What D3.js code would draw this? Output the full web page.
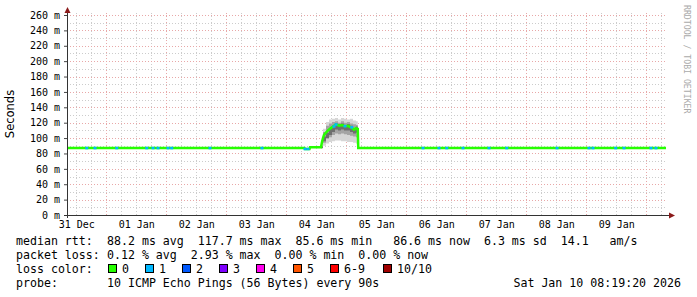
<!DOCTYPE html>
<html><head><meta charset="utf-8">
<script src="https://cdn.jsdelivr.net/npm/d3@7"></script>
<style>
html,body{margin:0;padding:0;background:#fff;}
text{white-space:pre;}
</style></head>
<body>
<svg id="c" width="697" height="297"></svg>
<script>
// ---------- data ----------
const startUTC = Date.UTC(2025, 11, 31, 8, 19, 20);   // Dec 31 08:19:20
const endUTC   = Date.UTC(2026, 0, 10, 8, 19, 20);    // Jan 10 08:19:20
const yTicks = [0,20,40,60,80,100,120,140,160,180,200,220,240,260];
const dayLabels = ["31 Dec","01 Jan","02 Jan","03 Jan","04 Jan","05 Jan","06 Jan","07 Jan","08 Jan","09 Jan"];

// median rtt (hours since start, ms)
const medianHours = [0, 95.0, 95.2, 97.0, 97.2, 101.6, 102.0, 102.4, 102.8, 103.6, 104.4, 105.2, 106.4, 107.6, 108.8, 110.0, 111.2, 112.4, 113.6, 114.8, 115.6, 116.3, 116.5, 239.6];
const medianMs    = [87.0, 87.0, 85.8, 85.8, 88.0, 88.0, 95, 100, 104, 107, 110, 112, 115, 117.7, 116, 117, 115.5, 116, 114, 111, 113, 112, 87.0, 87.0];

// smoke (spread of the 10 pings) during the spike
const smokeHours = [101.6, 102.4, 103.6, 104.8, 106.0, 107.2, 108.4, 109.6, 110.8, 112.0, 113.2, 114.4, 115.6, 116.3];
const smokeMax   = [92, 112, 121, 124, 125, 126, 124, 126, 125, 124, 125, 123, 122, 120];
const smokeQ3    = [90, 108, 116, 119, 121, 122, 120, 122, 120, 121, 119, 118, 117, 115];
const smokeInHi  = [89, 102, 107, 112, 116, 119, 118, 119, 117, 118, 116, 113, 115, 113];
const smokeInLo  = [87, 96, 100, 104, 108, 111, 110, 111, 110, 110, 108, 106, 107, 105];
const smokeQ1    = [87, 94, 99, 101, 104, 106, 105, 106, 105, 104, 103, 102, 101, 100];
const smokeMin   = [86, 90, 93, 95, 96, 97, 97, 96, 96, 95, 95, 94, 93, 92];

// samples with packet loss (hours since start, median ms, lost pings)
const lossHours = [7.9, 11.2, 19.9, 31.9, 34.4, 36.4, 40.4, 41.9, 57.2, 78.0, 95.2, 96.4, 106.8, 107.6, 111.2, 113.9, 142.4, 148.8, 151.9, 158.4, 168.8, 175.9, 196.0, 208.8, 210.4, 219.5, 222.8, 233.6, 235.6];
const lossMs    = [87, 87, 87, 87, 87, 87, 87, 87, 87, 87, 85.8, 85.8, 115, 117.7, 115.5, 114, 87, 87, 87, 87, 87, 87, 87, 87, 87, 87, 87, 87, 87];
const lossCount = [1,1,1,1,1,1,1,1,1,1,1,1,1,1,1,1,1,1,1,1,1,1,1,1,1,1,1,1,1];

const lossLabels = ["0","1","2","3","4","5","6-9","10/10"];
const lossColors = ["#26ff00","#00b8ff","#0059ff","#7e00ff","#ff00ee","#ff5500","#ff0000","#a00000"];

const legendRows = [
  ["median rtt:", "88.2 ms avg  117.7 ms max  85.6 ms min   86.6 ms now  6.3 ms sd  14.1   am/s"],
  ["packet loss:", "0.12 % avg  2.93 % max  0.00 % min  0.00 % now"],
  ["loss color:", ""],
  ["probe:", "10 ICMP Echo Pings (56 Bytes) every 90s"]
];
const stampText = "Sat Jan 10 08:19:20 2026";

// ---------- chart ----------
const svg = d3.select("#c");
const mono = "'DejaVu Sans Mono', monospace";
const L = 67, R = 667, T = 13, B = 215;
const toDate = h => new Date(startUTC + h * 3600e3);

const x = d3.scaleUtc().domain([new Date(startUTC), new Date(endUTC)]).range([L, R]);
const y = d3.scaleLinear().domain([0, 260]).range([B, 15]);

const grid = svg.append("g").attr("shape-rendering", "crispEdges");
// minor horizontal
d3.range(10, 261, 20).forEach(v => {
  grid.append("line").attr("x1", L).attr("x2", R).attr("y1", Math.round(y(v)) + 0.5).attr("y2", Math.round(y(v)) + 0.5)
    .attr("stroke", "#cccccc").attr("stroke-dasharray", "1,2");
});
// minor vertical (6h)
d3.utcHour.every(6).range(new Date(startUTC), new Date(endUTC)).forEach(d => {
  if (d.getUTCHours() === 0) return;
  const px = Math.round(x(d)) + 0.5;
  grid.append("line").attr("x1", px).attr("x2", px).attr("y1", T).attr("y2", B)
    .attr("stroke", "#cccccc").attr("stroke-dasharray", "1,2");
});
// major horizontal
yTicks.filter(v => v > 0).forEach(v => {
  grid.append("line").attr("x1", L).attr("x2", R).attr("y1", Math.round(y(v)) + 0.5).attr("y2", Math.round(y(v)) + 0.5)
    .attr("stroke", "#e8a8a8").attr("stroke-dasharray", "1,2");
});
// major vertical (midnight)
d3.utcDay.range(new Date(startUTC), new Date(endUTC)).forEach(d => {
  const px = Math.round(x(d)) + 0.5;
  grid.append("line").attr("x1", px).attr("x2", px).attr("y1", T).attr("y2", B)
    .attr("stroke", "#e8a8a8").attr("stroke-dasharray", "1,2");
});

// smoke
const bandArea = (lo, hi) => d3.area().curve(d3.curveStepAfter)
  .x((d, i) => x(toDate(smokeHours[i])))
  .y0((d, i) => y(lo[i])).y1((d, i) => y(hi[i]));
svg.append("path").attr("d", bandArea(smokeMin, smokeMax)(smokeHours)).attr("fill", "#d6d6d6");
svg.append("path").attr("d", bandArea(smokeQ1, smokeQ3)(smokeHours)).attr("fill", "#a4a4a4");
svg.append("path").attr("d", bandArea(smokeInLo, smokeInHi)(smokeHours)).attr("fill", "#6e6e6e");

// median line
const line = d3.line().x((d, i) => x(toDate(medianHours[i]))).y((d, i) => y(medianMs[i]));
svg.append("path").attr("d", line(medianHours)).attr("fill", "none")
  .attr("stroke", lossColors[0]).attr("stroke-width", 2.5);

// loss marks
svg.append("g").selectAll("rect").data(lossHours).join("rect")
  .attr("x", (d) => x(toDate(d)) - 1.5).attr("width", 3)
  .attr("y", (d, i) => y(lossMs[i]) - 1.25).attr("height", 2.5)
  .attr("fill", (d, i) => lossColors[Math.min(lossCount[i], 7)]);

// axes
const yAxis = d3.axisLeft(y).tickValues(yTicks).tickSize(3).tickPadding(4).tickFormat(d => d + " m");
const gy = svg.append("g").attr("transform", `translate(${L},0)`).call(yAxis);
gy.select(".domain").remove();
gy.selectAll("text").attr("font-family", mono).attr("font-size", 10).attr("fill", "#000");
gy.selectAll("line").attr("stroke", "#444");

const noonDates = dayLabels.map((s, i) => new Date(Date.UTC(2025, 11, 31 + i, 12)));
const xAxis = d3.axisBottom(x).tickValues(noonDates).tickSize(0).tickPadding(6)
  .tickFormat((d, i) => dayLabels[i]);
const gx = svg.append("g").attr("transform", `translate(0,${B})`).call(xAxis);
gx.select(".domain").remove();
gx.selectAll("text").attr("font-family", mono).attr("font-size", 10).attr("fill", "#000");

// axis lines + arrows
svg.append("line").attr("x1", L + 0.5).attr("x2", L + 0.5).attr("y1", B + 3).attr("y2", 12).attr("stroke", "#333");
svg.append("line").attr("x1", L - 3).attr("x2", 670).attr("y1", B + 0.5).attr("y2", B + 0.5).attr("stroke", "#333");
svg.append("path").attr("d", `M${L + 0.5},7 L${L + 3.5},13 L${L - 2.5},13 Z`).attr("fill", "#8b1a1a");
svg.append("path").attr("d", `M675,${B + 0.5} L669,${B - 2.5} L669,${B + 3.5} Z`).attr("fill", "#8b1a1a");

// y label
svg.append("text").attr("transform", "translate(14,114) rotate(-90)").attr("text-anchor", "middle")
  .attr("font-family", "'DejaVu Sans', sans-serif").attr("font-size", 11.5).attr("fill", "#000").text("Seconds");

// watermark
svg.append("text").attr("transform", "translate(684,5) rotate(90)")
  .attr("font-family", mono).attr("font-size", 8.2).attr("fill", "#aaaaaa").text("RRDTOOL / TOBI OETIKER");

// legend
const rowY = [245, 259, 273, 287];
legendRows.forEach((r, i) => {
  svg.append("text").attr("x", 16).attr("y", rowY[i]).attr("font-family", mono).attr("font-size", 11.6).attr("fill", "#000").text(r[0]);
  if (r[1]) svg.append("text").attr("x", 107).attr("y", rowY[i]).attr("font-family", mono).attr("font-size", 11.6).attr("fill", "#000").text(r[1]);
});
const boxX = [108, 145, 182, 219, 256, 293, 330, 383];
lossLabels.forEach((lab, i) => {
  svg.append("rect").attr("x", boxX[i] + 0.5).attr("y", 264.5).attr("width", 8).attr("height", 8)
    .attr("fill", lossColors[i]).attr("stroke", "#000").attr("stroke-width", 1);
  svg.append("text").attr("x", boxX[i] + 14).attr("y", rowY[2]).attr("font-family", mono).attr("font-size", 11.6).attr("fill", "#000").text(lab);
});
svg.append("text").attr("x", 681).attr("y", rowY[3]).attr("text-anchor", "end").attr("font-family", mono).attr("font-size", 11.6).attr("fill", "#000").text(stampText);
</script>
</body></html>
